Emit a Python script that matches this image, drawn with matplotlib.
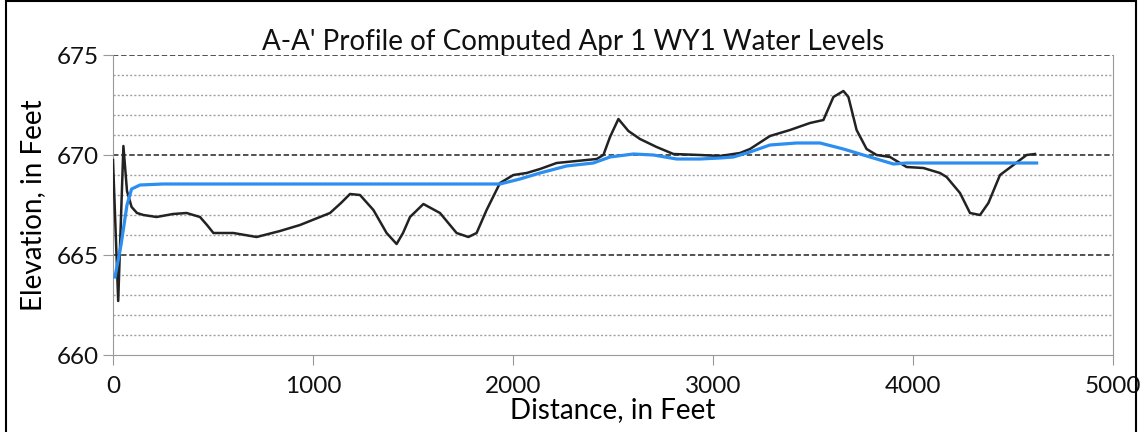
import matplotlib.pyplot as plt
from matplotlib.patches import Rectangle

# ground / observed profile (black)
ground_x = [0, 26, 52, 70, 93, 120, 152, 218, 300, 368, 435, 470, 502, 602,
            718, 835, 935, 1085, 1140, 1185, 1235, 1302, 1368, 1418, 1450,
            1485, 1552, 1635, 1718, 1777, 1818, 1868, 1935, 2002, 2068, 2135,
            2218, 2318, 2418, 2452, 2485, 2527, 2577, 2635, 2718, 2802, 2935,
            3035, 3135, 3185, 3285, 3385, 3485, 3552, 3602, 3652, 3677, 3718,
            3768, 3818, 3885, 3968, 4052, 4135, 4168, 4235, 4285, 4335, 4377,
            4435, 4502, 4568, 4610]
ground_y = [669.75, 662.7, 670.45, 668.2, 667.4, 667.1, 667.0, 666.9, 667.05,
            667.1, 666.9, 666.5, 666.1, 666.1, 665.9, 666.2, 666.5, 667.1,
            667.6, 668.05, 668.0, 667.25, 666.1, 665.55, 666.1, 666.9, 667.55,
            667.1, 666.1, 665.9, 666.1, 667.25, 668.6, 669.0, 669.1, 669.3,
            669.6, 669.7, 669.8, 670.0, 670.9, 671.8, 671.2, 670.8, 670.4,
            670.05, 670.0, 669.95, 670.1, 670.3, 670.95, 671.25, 671.6, 671.75,
            672.9, 673.2, 672.9, 671.25, 670.3, 670.0, 669.9, 669.4, 669.35,
            669.1, 668.9, 668.1, 667.1, 667.0, 667.6, 669.0, 669.5, 670.0,
            670.05]

# computed water level (blue)
water_x = [10, 40, 70, 93, 135, 250, 600, 1000, 1500, 1935, 2035, 2135, 2268,
           2402, 2485, 2602, 2702, 2818, 2935, 3035, 3102, 3185, 3285, 3418,
           3535, 3652, 3785, 3902, 3968, 4300, 4618]
water_y = [663.9, 665.5, 667.5, 668.3, 668.5, 668.55, 668.55, 668.55, 668.55,
           668.55, 668.8, 669.1, 669.45, 669.6, 669.9, 670.05, 670.0, 669.8,
           669.8, 669.85, 669.9, 670.15, 670.5, 670.6, 670.6, 670.3, 669.9,
           669.55, 669.6, 669.6, 669.6]

plt.rcParams['font.family'] = ['Lato', 'DejaVu Sans']
plt.rcParams['text.color'] = '#111111'

fig = plt.figure(figsize=(11.4, 4.32), dpi=100)
ax = fig.add_axes([113 / 1140, 1 - 355 / 432, 1000 / 1140, 300 / 432])

# horizontal grid, one line per foot
for lev in range(661, 676):
    if lev % 5 == 0:
        ax.axhline(lev, color='#444444', lw=1.3, ls=(0, (3, 1.5)), zorder=1)
    else:
        ax.axhline(lev, color='#a0a0a0', lw=1.0, ls=(0, (1.5, 1.5)), zorder=1)

ax.plot(ground_x, ground_y, color='#222222', lw=1.8, zorder=3)
ax.plot(water_x, water_y, color='#2b8ef0', lw=2.3, zorder=4)

ax.set_xlim(0, 5000)
ax.set_ylim(660, 675)
ax.set_xticks([0, 1000, 2000, 3000, 4000, 5000])
ax.set_yticks([660, 665, 670, 675])
ax.tick_params(labelsize=17.5, length=7, color='#999999', labelcolor='#111111')
ax.tick_params(axis='x', pad=8)
ax.tick_params(axis='y', pad=3)
for s in ['left', 'bottom', 'right']:
    ax.spines[s].set_color('#999999')
ax.spines['top'].set_visible(False)

ax.set_title("A-A' Profile of Computed Apr 1 WY1 Water Levels",
             fontsize=20, x=0.46, pad=3)
ax.set_xlabel('Distance, in Feet', fontsize=20, labelpad=0)
ax.set_ylabel('Elevation, in Feet', fontsize=20, labelpad=8)

# outer frame
fig.patches.append(Rectangle((6 / 1140, -0.01), 1130 / 1140, 1.0075,
                             transform=fig.transFigure, fill=False,
                             edgecolor='black', lw=1.5))

fig.savefig('out.png', dpi=100)
